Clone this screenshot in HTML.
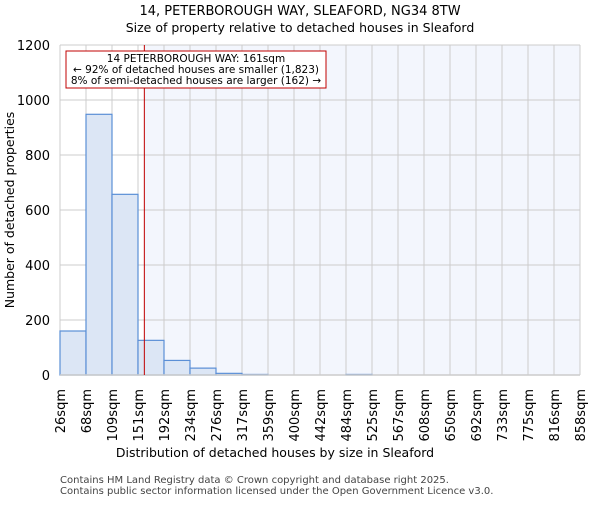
<!DOCTYPE html>
<html><head><meta charset="utf-8"><style>
body{margin:0;background:#fff;}
svg{font-family:"DejaVu Sans","Liberation Sans",sans-serif;}
</style></head><body>
<svg id="chart" width="600" height="500">
<text x="300" y="15" text-anchor="middle" font-size="13">14, PETERBOROUGH WAY, SLEAFORD, NG34 8TW</text>
<text x="300" y="32" text-anchor="middle" font-size="12.5">Size of property relative to detached houses in Sleaford</text>
<g id="plot"></g>
<text x="275" y="457" text-anchor="middle" font-size="12.5">Distribution of detached houses by size in Sleaford</text>
<text transform="translate(14,210) rotate(-90)" text-anchor="middle" font-size="12.5">Number of detached properties</text>
<text x="60" y="483" font-size="10" fill="#444">Contains HM Land Registry data © Crown copyright and database right 2025.</text>
<text x="60" y="494" font-size="10" fill="#444">Contains public sector information licensed under the Open Government Licence v3.0.</text>
</svg>
<script>
const binLabels=["26sqm","68sqm","109sqm","151sqm","192sqm","234sqm","276sqm","317sqm","359sqm","400sqm","442sqm","484sqm","525sqm","567sqm","608sqm","650sqm","692sqm","733sqm","775sqm","816sqm","858sqm"];
const counts=[160,948,657,126,53,25,6,2,0,0,0,2,0,0,0,0,0,0,0,0];
const yTicks=[0,200,400,600,800,1000,1200];
const propertySize=161;
const binEdges=[26,68,109,151,192,234,276,317,359,400,442,484,525,567,608,650,692,733,775,816,858];
const NS="http://www.w3.org/2000/svg";
const L=60,R=580,T=45,B=375,yMax=1200;
const nb=counts.length,bw=(R-L)/nb;
const xIdx=i=>L+i*bw;
const y=v=>B-(v/yMax)*(B-T);
function xVal(v){for(let i=0;i<binEdges.length-1;i++){if(v<=binEdges[i+1])return xIdx(i)+(v-binEdges[i])/(binEdges[i+1]-binEdges[i])*bw;}return R;}
const g=document.getElementById('plot');
function mk(t,a){const e=document.createElementNS(NS,t);for(const k in a)e.setAttribute(k,a[k]);g.appendChild(e);return e;}
const px=xVal(propertySize);
let e=mk('rect',{x:L,y:T,width:R-L,height:B-T,fill:'#fff'});


e=mk('rect',{x:px,y:T,width:R-px,height:B-T,fill:'#f3f6fd'});


for(let i=0;i<=nb;i++){e=mk('line',{x1:xIdx(i),x2:xIdx(i),y1:T,y2:B,stroke:'#cccccc','stroke-width':1});

}
yTicks.forEach(v=>{e=mk('line',{x1:L,x2:R,y1:y(v),y2:y(v),stroke:'#cccccc','stroke-width':1});


const t=mk('text',{x:L-10,y:y(v)+5,'text-anchor':'end','font-size':13});t.textContent=v;

});
counts.forEach((c,i)=>{if(c<=0)return;const r=mk('rect',{x:xIdx(i),y:y(c),width:bw,height:B-y(c),fill:'#dce6f5',stroke:'#5b8fd6','stroke-width':1.2});

});
e=mk('line',{x1:L,x2:R,y1:B,y2:B,stroke:'#cccccc','stroke-width':1.5});


binLabels.forEach((s,i)=>{const t=mk('text',{transform:`translate(${xIdx(i)+5},389) rotate(-90)`,'text-anchor':'end','font-size':13});t.textContent=s;

});
e=mk('line',{x1:px,x2:px,y1:T,y2:B,stroke:'#c00000','stroke-width':1});


e=mk('rect',{x:66,y:51,width:260,height:37,fill:'#fff',stroke:'#c00000','stroke-width':1});


["14 PETERBOROUGH WAY: 161sqm","← 92% of detached houses are smaller (1,823)","8% of semi-detached houses are larger (162) →"].forEach((s,i)=>{const t=mk('text',{x:196,y:62+i*11,'text-anchor':'middle','font-size':10.5});t.textContent=s;

});
</script>
</body></html>
